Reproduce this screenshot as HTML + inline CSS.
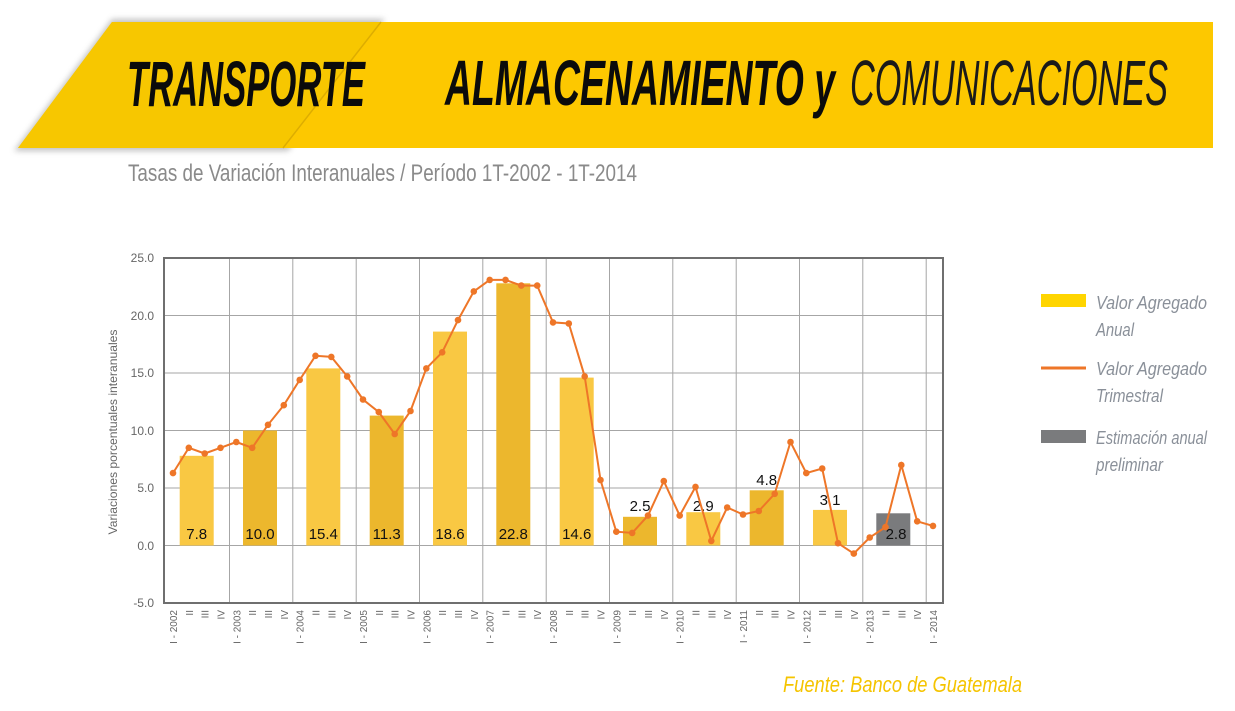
<!DOCTYPE html>
<html><head><meta charset="utf-8"><style>
html,body{margin:0;padding:0;background:#fff;width:1235px;height:711px;overflow:hidden}
svg{display:block}
</style></head><body>
<svg width="1235" height="711" viewBox="0 0 1235 711" xmlns="http://www.w3.org/2000/svg" font-family="Liberation Sans, sans-serif">
<defs><filter id="sh" x="-5%" y="-20%" width="110%" height="140%"><feGaussianBlur stdDeviation="3"/></filter></defs>
<!-- header -->
<polygon points="112,19 385,19 288,151 14,151" fill="#888" opacity="0.5" filter="url(#sh)"/>
<polygon points="112,22 1213,22 1213,148 18,148" fill="#FDC800"/>
<polygon points="112,22 380,22 282,148 18,148" fill="#F7C700"/>
<line x1="381" y1="22" x2="283" y2="148" stroke="#c99c00" stroke-width="1.5" opacity="0.6"/>
<text x="127" y="106" font-size="64" font-weight="bold" font-style="italic" fill="#0b0b0b" textLength="238" lengthAdjust="spacingAndGlyphs">TRANSPORTE</text>
<text x="445" y="105" font-size="64" font-weight="bold" font-style="italic" fill="#0b0b0b" textLength="390" lengthAdjust="spacingAndGlyphs">ALMACENAMIENTO y</text>
<text x="850" y="105" font-size="64" font-style="italic" fill="#1a1a1a" textLength="318" lengthAdjust="spacingAndGlyphs">COMUNICACIONES</text>
<text x="128" y="181" font-size="24" fill="#8a8a8a" textLength="509" lengthAdjust="spacingAndGlyphs">Tasas de Variación Interanuales / Período 1T-2002 - 1T-2014</text>

<!-- grid -->
<g stroke="#a6a6a6" stroke-width="1">
<line x1="164" y1="315.5" x2="943" y2="315.5"/><line x1="164" y1="373" x2="943" y2="373"/>
<line x1="164" y1="430.5" x2="943" y2="430.5"/><line x1="164" y1="488" x2="943" y2="488"/>
<line x1="164" y1="545.5" x2="943" y2="545.5"/>
<line x1="229.5" y1="258" x2="229.5" y2="603"/><line x1="292.8" y1="258" x2="292.8" y2="603"/>
<line x1="356.2" y1="258" x2="356.2" y2="603"/><line x1="419.5" y1="258" x2="419.5" y2="603"/>
<line x1="482.8" y1="258" x2="482.8" y2="603"/><line x1="546.2" y1="258" x2="546.2" y2="603"/>
<line x1="609.5" y1="258" x2="609.5" y2="603"/><line x1="672.8" y1="258" x2="672.8" y2="603"/>
<line x1="736.2" y1="258" x2="736.2" y2="603"/><line x1="799.5" y1="258" x2="799.5" y2="603"/>
<line x1="862.8" y1="258" x2="862.8" y2="603"/><line x1="926.2" y1="258" x2="926.2" y2="603"/>
</g>
<!-- bars -->
<g>
<rect x="179.7" y="455.8" width="34" height="89.7" fill="#F9C843"/>
<rect x="243" y="430.5" width="34" height="115" fill="#ECB72D"/>
<rect x="306.3" y="368.4" width="34" height="177.1" fill="#F9C843"/>
<rect x="369.7" y="415.6" width="34" height="129.9" fill="#ECB72D"/>
<rect x="433" y="331.6" width="34" height="213.9" fill="#F9C843"/>
<rect x="496.3" y="283.3" width="34" height="262.2" fill="#ECB72D"/>
<rect x="559.7" y="377.6" width="34" height="167.9" fill="#F9C843"/>
<rect x="623" y="516.8" width="34" height="28.7" fill="#ECB72D"/>
<rect x="686.3" y="512.2" width="34" height="33.3" fill="#F9C843"/>
<rect x="749.7" y="490.3" width="34" height="55.2" fill="#ECB72D"/>
<rect x="813" y="509.9" width="34" height="35.6" fill="#F9C843"/>
<rect x="876.3" y="513.3" width="34" height="32.2" fill="#7a7b7d"/>
</g>
<rect x="164" y="258" width="779" height="345" fill="none" stroke="#6f6f6f" stroke-width="2"/>
<!-- bar labels -->
<g font-size="15" fill="#111" text-anchor="middle">
<text x="196.7" y="539">7.8</text><text x="260" y="539">10.0</text><text x="323.3" y="539">15.4</text>
<text x="386.7" y="539">11.3</text><text x="450" y="539">18.6</text><text x="513.3" y="539">22.8</text>
<text x="576.7" y="539">14.6</text><text x="640" y="511">2.5</text><text x="703.3" y="511">2.9</text>
<text x="766.7" y="485">4.8</text><text x="830" y="505">3.1</text><text x="896" y="539">2.8</text>
</g>
<!-- line -->
<polyline fill="none" stroke="#EE7628" stroke-width="2" points="173,473.1 188.8,447.8 204.7,453.5 220.5,447.8 236.3,442 252.2,447.8 268,424.8 283.8,405.2 299.7,379.9 315.5,355.8 331.3,356.9 347.2,376.4 363,399.5 378.8,412.1 394.7,434 410.5,411 426.3,368.4 442.2,352.3 458,320.1 473.8,291.4 489.7,279.9 505.5,279.9 521.3,285.6 537.2,285.6 553,322.4 568.8,323.5 584.7,376.4 600.5,480 616.3,531.7 632.2,532.9 648,515.6 663.8,481.1 679.7,515.6 695.5,486.9 711.3,540.9 727.2,507.5 743,514.5 758.8,511 774.7,493.8 790.5,442 806.3,473.1 822.2,468.5 838,543.2 853.8,553.6 869.7,537.5 885.5,527.1 901.3,465 917.2,521.3 933,525.9"/>
<g fill="#EE7628">
<circle cx="173" cy="473.1" r="3.3"/><circle cx="188.8" cy="447.8" r="3.3"/><circle cx="204.7" cy="453.5" r="3.3"/><circle cx="220.5" cy="447.8" r="3.3"/><circle cx="236.3" cy="442" r="3.3"/><circle cx="252.2" cy="447.8" r="3.3"/><circle cx="268" cy="424.8" r="3.3"/><circle cx="283.8" cy="405.2" r="3.3"/><circle cx="299.7" cy="379.9" r="3.3"/><circle cx="315.5" cy="355.8" r="3.3"/><circle cx="331.3" cy="356.9" r="3.3"/><circle cx="347.2" cy="376.4" r="3.3"/><circle cx="363" cy="399.5" r="3.3"/><circle cx="378.8" cy="412.1" r="3.3"/><circle cx="394.7" cy="434" r="3.3"/><circle cx="410.5" cy="411" r="3.3"/><circle cx="426.3" cy="368.4" r="3.3"/><circle cx="442.2" cy="352.3" r="3.3"/><circle cx="458" cy="320.1" r="3.3"/><circle cx="473.8" cy="291.4" r="3.3"/><circle cx="489.7" cy="279.9" r="3.3"/><circle cx="505.5" cy="279.9" r="3.3"/><circle cx="521.3" cy="285.6" r="3.3"/><circle cx="537.2" cy="285.6" r="3.3"/><circle cx="553" cy="322.4" r="3.3"/><circle cx="568.8" cy="323.5" r="3.3"/><circle cx="584.7" cy="376.4" r="3.3"/><circle cx="600.5" cy="480" r="3.3"/><circle cx="616.3" cy="531.7" r="3.3"/><circle cx="632.2" cy="532.9" r="3.3"/><circle cx="648" cy="515.6" r="3.3"/><circle cx="663.8" cy="481.1" r="3.3"/><circle cx="679.7" cy="515.6" r="3.3"/><circle cx="695.5" cy="486.9" r="3.3"/><circle cx="711.3" cy="540.9" r="3.3"/><circle cx="727.2" cy="507.5" r="3.3"/><circle cx="743" cy="514.5" r="3.3"/><circle cx="758.8" cy="511" r="3.3"/><circle cx="774.7" cy="493.8" r="3.3"/><circle cx="790.5" cy="442" r="3.3"/><circle cx="806.3" cy="473.1" r="3.3"/><circle cx="822.2" cy="468.5" r="3.3"/><circle cx="838" cy="543.2" r="3.3"/><circle cx="853.8" cy="553.6" r="3.3"/><circle cx="869.7" cy="537.5" r="3.3"/><circle cx="885.5" cy="527.1" r="3.3"/><circle cx="901.3" cy="465" r="3.3"/><circle cx="917.2" cy="521.3" r="3.3"/><circle cx="933" cy="525.9" r="3.3"/>
</g>
<!-- y ticks -->
<g font-size="12" fill="#666" text-anchor="end">
<text x="154" y="262">25.0</text><text x="154" y="320">20.0</text><text x="154" y="377">15.0</text>
<text x="154" y="435">10.0</text><text x="154" y="492">5.0</text><text x="154" y="550">0.0</text><text x="154" y="607">-5.0</text>
</g>
<text transform="translate(117,432) rotate(-90)" font-size="12" fill="#666" text-anchor="middle" textLength="205" lengthAdjust="spacingAndGlyphs">Variaciones porcentuales interanuales</text>
<!-- x labels -->
<g font-size="10" fill="#666" text-anchor="end">
<text transform="translate(177,610) rotate(-90)">I - 2002</text><text transform="translate(192.8,610) rotate(-90)">II</text><text transform="translate(208.7,610) rotate(-90)">III</text><text transform="translate(224.5,610) rotate(-90)">IV</text>
<text transform="translate(240.3,610) rotate(-90)">I - 2003</text><text transform="translate(256.2,610) rotate(-90)">II</text><text transform="translate(272,610) rotate(-90)">III</text><text transform="translate(287.8,610) rotate(-90)">IV</text>
<text transform="translate(303.7,610) rotate(-90)">I - 2004</text><text transform="translate(319.5,610) rotate(-90)">II</text><text transform="translate(335.3,610) rotate(-90)">III</text><text transform="translate(351.2,610) rotate(-90)">IV</text>
<text transform="translate(367,610) rotate(-90)">I - 2005</text><text transform="translate(382.8,610) rotate(-90)">II</text><text transform="translate(398.7,610) rotate(-90)">III</text><text transform="translate(414.5,610) rotate(-90)">IV</text>
<text transform="translate(430.3,610) rotate(-90)">I - 2006</text><text transform="translate(446.2,610) rotate(-90)">II</text><text transform="translate(462,610) rotate(-90)">III</text><text transform="translate(477.8,610) rotate(-90)">IV</text>
<text transform="translate(493.7,610) rotate(-90)">I - 2007</text><text transform="translate(509.5,610) rotate(-90)">II</text><text transform="translate(525.3,610) rotate(-90)">III</text><text transform="translate(541.2,610) rotate(-90)">IV</text>
<text transform="translate(557,610) rotate(-90)">I - 2008</text><text transform="translate(572.8,610) rotate(-90)">II</text><text transform="translate(588.7,610) rotate(-90)">III</text><text transform="translate(604.5,610) rotate(-90)">IV</text>
<text transform="translate(620.3,610) rotate(-90)">I - 2009</text><text transform="translate(636.2,610) rotate(-90)">II</text><text transform="translate(652,610) rotate(-90)">III</text><text transform="translate(667.8,610) rotate(-90)">IV</text>
<text transform="translate(683.7,610) rotate(-90)">I - 2010</text><text transform="translate(699.5,610) rotate(-90)">II</text><text transform="translate(715.3,610) rotate(-90)">III</text><text transform="translate(731.2,610) rotate(-90)">IV</text>
<text transform="translate(747,610) rotate(-90)">I - 2011</text><text transform="translate(762.8,610) rotate(-90)">II</text><text transform="translate(778.7,610) rotate(-90)">III</text><text transform="translate(794.5,610) rotate(-90)">IV</text>
<text transform="translate(810.3,610) rotate(-90)">I - 2012</text><text transform="translate(826.2,610) rotate(-90)">II</text><text transform="translate(842,610) rotate(-90)">III</text><text transform="translate(857.8,610) rotate(-90)">IV</text>
<text transform="translate(873.7,610) rotate(-90)">I - 2013</text><text transform="translate(889.5,610) rotate(-90)">II</text><text transform="translate(905.3,610) rotate(-90)">III</text><text transform="translate(921.2,610) rotate(-90)">IV</text>
<text transform="translate(937,610) rotate(-90)">I - 2014</text>
</g>
<!-- legend -->
<rect x="1041" y="294" width="45" height="13" fill="#FFD500"/>
<line x1="1041" y1="368" x2="1086" y2="368" stroke="#EE7628" stroke-width="3"/>
<rect x="1041" y="430" width="45" height="13" fill="#7a7b7d"/>
<g font-size="18" font-style="italic" fill="#8a9099">
<text x="1096" y="309" textLength="111" lengthAdjust="spacingAndGlyphs">Valor  Agregado</text>
<text x="1096" y="336" textLength="38" lengthAdjust="spacingAndGlyphs">Anual</text>
<text x="1096" y="375" textLength="111" lengthAdjust="spacingAndGlyphs">Valor  Agregado</text>
<text x="1096" y="402" textLength="67" lengthAdjust="spacingAndGlyphs">Trimestral</text>
<text x="1096" y="444" textLength="111" lengthAdjust="spacingAndGlyphs">Estimación anual</text>
<text x="1096" y="471" textLength="67" lengthAdjust="spacingAndGlyphs">preliminar</text>
</g>
<text x="783" y="692" font-size="22" font-style="italic" fill="#F5C400" textLength="239" lengthAdjust="spacingAndGlyphs">Fuente: Banco de Guatemala</text>
</svg>
</body></html>
